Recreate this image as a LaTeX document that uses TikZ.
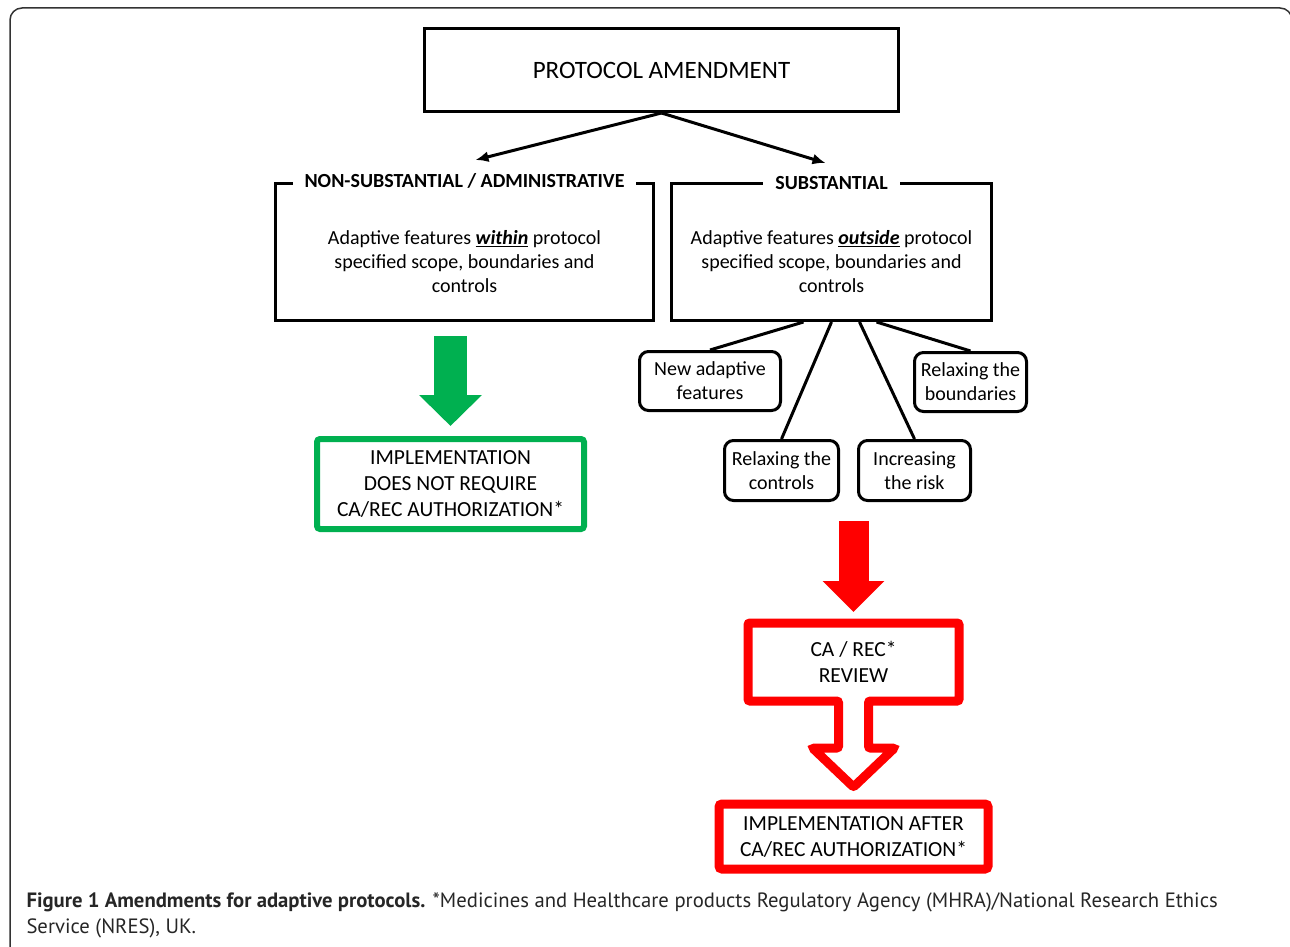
\documentclass[tikz,border=0pt]{standalone}
\usepackage{fontspec}
\setmainfont{Carlito}
\newfontfamily\capfont{PT Sans}
\usetikzlibrary{arrows,arrows.meta,positioning,calc}
\definecolor{okgreen}{RGB}{0,176,80}
\definecolor{alertred}{RGB}{255,0,0}

\begin{document}
\begin{tikzpicture}[x=1pt, y=-1pt, >={Latex[length=13pt,width=11pt]}, line width=3pt,
    every node/.style={align=center, font=\fontsize{20}{24}\selectfont},
    plainbox/.style={draw, line width=3pt, inner sep=0pt},
    optionbox/.style={draw, line width=3pt, rounded corners=9pt, inner sep=0pt},
    boxtitle/.style={fill=white, inner xsep=12pt, inner ysep=2pt,
      font=\fontsize{20}{22}\selectfont\bfseries},
    outcomebox/.style={draw, inner sep=0pt, rounded corners=3pt,
      font=\fontsize{21.5}{26}\selectfont}]

      \useasboundingbox (0,0) rectangle (1290,947);
      \draw [line width=1.5pt, black!80, rounded corners=12pt]
      (10,960) -- (10,8) -- (1292,8) -- (1292,960);

      % top box
      \node (pabox) at (661.5,70)
      [plainbox, minimum width=474, minimum height=83, font=\fontsize{25}{28}\selectfont]
      {PROTOCOL AMENDMENT};

      % two kinds of amendment
      \node (nsbox) at (464.5,252)
      [plainbox, minimum width=378, minimum height=137] {};
      \node (nstitle) at ($(nsbox.north)+(0,-1)$) [boxtitle]
      {NON-SUBSTANTIAL / ADMINISTRATIVE};
      \node (nstext) at ($(nsbox.center)+(0,10)$)
      {Adaptive features \underline{\textbf{\textit{within}}} protocol\\
       specified scope, boundaries and\\ controls};

      \node (ssbox) at (831.5,252)
      [plainbox, minimum width=320, minimum height=137] {};
      \node (sstitle) at ($(ssbox.north)+(0,1)$) [boxtitle]
      {SUBSTANTIAL};
      \node (sstext) at ($(ssbox.center)+(0,10)$)
      {Adaptive features \underline{\textbf{\textit{outside}}} protocol\\
       specified scope, boundaries and\\ controls};

      \coordinate (nsend) at ($(nsbox.north)+(11,-22)$);
      \coordinate (ssend) at ($(ssbox.north)+(-6,-19)$);
      \draw [->] (pabox.south) -- (nsend);
      \draw [->] (pabox.south) -- (ssend);

      % kinds of substantial change
      \node (nabox) at (710,381)
      [optionbox, minimum width=141, minimum height=59] {New adaptive\\ features};
      \node (bdbox) at (970.5,382)
      [optionbox, minimum width=112, minimum height=59] {Relaxing the\\ boundaries};
      \node (rcbox) at (781.5,470.5)
      [optionbox, minimum width=114, minimum height=60] {Relaxing the\\ controls};
      \node (irbox) at (914.5,470.5)
      [optionbox, minimum width=112, minimum height=60] {Increasing\\ the risk};

      \draw ($(ssbox.south)+(-28,0)$) -- (nabox.north);
      \draw (ssbox.south) -- (rcbox.north);
      \draw ($(ssbox.south)+(28,0)$) -- (irbox.north);
      \draw ($(ssbox.south)+(45,0)$) -- (bdbox.north);

      % green branch
      \node (okbox) at (450.5,484)
      [outcomebox, okgreen, line width=6pt, text=black, minimum width=267, minimum height=90]
      {IMPLEMENTATION\\ DOES NOT REQUIRE\\ CA/REC AUTHORIZATION*};
      \draw [okgreen, line width=33pt, -{Triangle[width=61pt,length=31pt]}]
      ($(okbox.north |- nsbox.south)+(0,14)$) -- ($(okbox.north)+(0,-10)$);

      % red branch
      \node (reviewbox) at (853.5,662)
      [inner sep=0pt, outer sep=0pt, minimum width=211, minimum height=78,
       font=\fontsize{21.5}{26}\selectfont]
      {CA / REC*\\ REVIEW};
      \draw [alertred, line width=9pt, rounded corners=2pt]
      (reviewbox.north west) -- (reviewbox.north east) -- (reviewbox.south east)
      -- ($(reviewbox.south)+(15,0)$) -- ++(0,47) -- ++(26,0)
      -- ($(reviewbox.south)+(0,86)$) -- ($(reviewbox.south)+(-41,47)$) -- ++(26,0)
      -- ($(reviewbox.south)+(-15,0)$) -- (reviewbox.south west) -- cycle;
      \draw [alertred, line width=30pt, -{Triangle[width=60pt,length=31pt]}]
      ($(rcbox.south -| reviewbox.north)+(0,19)$) -- ($(reviewbox.north)+(0,-11)$);

      \node (implbox) at (853.5,836.5)
      [outcomebox, alertred, line width=9pt, text=black, minimum width=269, minimum height=65]
      {IMPLEMENTATION AFTER\\ CA/REC AUTHORIZATION*};

      % caption
      \node (caption) at (25,891)
      [anchor=north west, align=left, inner sep=0pt, text=black!85,
       font=\capfont\fontsize{20.7}{26}\selectfont]
      {\textbf{Figure 1 Amendments for adaptive protocols.} *Medicines and Healthcare products Regulatory Agency (MHRA)/National Research Ethics\\
       Service (NRES), UK.};
    \end{tikzpicture}
\end{document}
